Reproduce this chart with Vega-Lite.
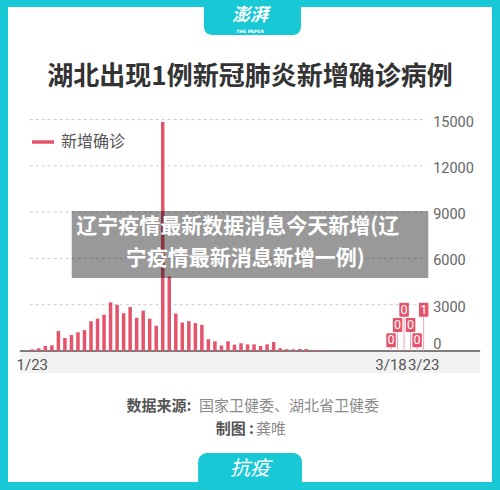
{
  "$schema": "https://vega.github.io/schema/vega-lite/v6.json",
  "width": 484,
  "height": 475,
  "autosize": {"type": "none"},
  "padding": {"left": 8, "top": 7, "right": 8, "bottom": 8},
  "config": {
    "background": "#18c8d5",
    "view": {"fill": "#ffffff", "stroke": null},
    "font": "Noto Sans CJK SC"
  },
  "data": {"values": [{}]},
  "datasets": {
    "cases": [
      {"date": "2020-01-23", "value": 105},
      {"date": "2020-01-24", "value": 180},
      {"date": "2020-01-25", "value": 323},
      {"date": "2020-01-26", "value": 370},
      {"date": "2020-01-27", "value": 1296},
      {"date": "2020-01-28", "value": 842},
      {"date": "2020-01-29", "value": 1037},
      {"date": "2020-01-30", "value": 1215},
      {"date": "2020-01-31", "value": 1355},
      {"date": "2020-02-01", "value": 1925},
      {"date": "2020-02-02", "value": 2100},
      {"date": "2020-02-03", "value": 2350},
      {"date": "2020-02-04", "value": 3156},
      {"date": "2020-02-05", "value": 2995},
      {"date": "2020-02-06", "value": 2447},
      {"date": "2020-02-07", "value": 2845},
      {"date": "2020-02-08", "value": 2155},
      {"date": "2020-02-09", "value": 2618},
      {"date": "2020-02-10", "value": 2097},
      {"date": "2020-02-11", "value": 1640},
      {"date": "2020-02-12", "value": 14840},
      {"date": "2020-02-13", "value": 4830},
      {"date": "2020-02-14", "value": 2425},
      {"date": "2020-02-15", "value": 1845},
      {"date": "2020-02-16", "value": 1933},
      {"date": "2020-02-17", "value": 1807},
      {"date": "2020-02-18", "value": 1693},
      {"date": "2020-02-19", "value": 760},
      {"date": "2020-02-20", "value": 630},
      {"date": "2020-02-21", "value": 350},
      {"date": "2020-02-22", "value": 630},
      {"date": "2020-02-23", "value": 410},
      {"date": "2020-02-24", "value": 500},
      {"date": "2020-02-25", "value": 430},
      {"date": "2020-02-26", "value": 430},
      {"date": "2020-02-27", "value": 325},
      {"date": "2020-02-28", "value": 430},
      {"date": "2020-02-29", "value": 580},
      {"date": "2020-03-01", "value": 180},
      {"date": "2020-03-02", "value": 114},
      {"date": "2020-03-03", "value": 115},
      {"date": "2020-03-04", "value": 134},
      {"date": "2020-03-05", "value": 126},
      {"date": "2020-03-06", "value": 70},
      {"date": "2020-03-07", "value": 45},
      {"date": "2020-03-08", "value": 36},
      {"date": "2020-03-09", "value": 17},
      {"date": "2020-03-10", "value": 13},
      {"date": "2020-03-11", "value": 8},
      {"date": "2020-03-12", "value": 5},
      {"date": "2020-03-13", "value": 4},
      {"date": "2020-03-14", "value": 4},
      {"date": "2020-03-15", "value": 4},
      {"date": "2020-03-16", "value": 1},
      {"date": "2020-03-17", "value": 1},
      {"date": "2020-03-18", "value": 0},
      {"date": "2020-03-19", "value": 0},
      {"date": "2020-03-20", "value": 0},
      {"date": "2020-03-21", "value": 0},
      {"date": "2020-03-22", "value": 0},
      {"date": "2020-03-23", "value": 1}
    ],
    "yticks": [
      {"value": 0},
      {"value": 3000},
      {"value": 6000},
      {"value": 9000},
      {"value": 12000},
      {"value": 15000}
    ],
    "xlabels": [
      {"date": "2020-01-23", "label": "1/23"},
      {"date": "2020-03-18", "label": "3/18"},
      {"date": "2020-03-23", "label": "3/23"}
    ],
    "flags": [
      {"day": "3/18", "date": "2020-03-18", "value": 0},
      {"day": "3/19", "date": "2020-03-19", "value": 0},
      {"day": "3/20", "date": "2020-03-20", "value": 0},
      {"day": "3/21", "date": "2020-03-21", "value": 0},
      {"day": "3/22", "date": "2020-03-22", "value": 0},
      {"day": "3/23", "date": "2020-03-23", "value": 1}
    ]
  },
  "layer": [
    {
      "mark": {"type": "rect", "color": "#18c8d5", "cornerRadiusBottomLeft": 8, "cornerRadiusBottomRight": 8},
      "encoding": {
        "x": {"datum": {"year": 2020, "month": 2, "date": 18, "hours": 7, "minutes": 41, "utc": true}, "type": "temporal", "axis": null},
        "x2": {"datum": {"year": 2020, "month": 3, "date": 4, "hours": 4, "minutes": 34, "utc": true}},
        "y": {"datum": 24500, "type": "quantitative", "axis": null},
        "y2": {"datum": 20480}
      }
    },
    {
      "mark": {"type": "text", "text": "澎湃", "color": "#ffffff", "fontSize": 18, "fontWeight": "bold", "fontStyle": "italic", "align": "center", "baseline": "middle"},
      "encoding": {
        "x": {"datum": {"year": 2020, "month": 2, "date": 25, "hours": 9, "minutes": 7, "utc": true}, "type": "temporal", "axis": null},
        "y": {"datum": 21700, "type": "quantitative", "axis": null}
      }
    },
    {
      "mark": {"type": "text", "text": "THE PAPER", "color": "#ffffff", "fontSize": 4.5, "font": "DejaVu Sans", "fontWeight": "bold", "align": "center", "baseline": "middle"},
      "encoding": {
        "x": {"datum": {"year": 2020, "month": 2, "date": 25, "hours": 9, "minutes": 7, "utc": true}, "type": "temporal", "axis": null},
        "y": {"datum": 20700, "type": "quantitative", "axis": null}
      }
    },
    {
      "mark": {"type": "text", "text": "湖北出现1例新冠肺炎新增确诊病例", "color": "#333333", "fontSize": 26, "fontWeight": "bold", "align": "center", "baseline": "middle"},
      "encoding": {
        "x": {"datum": {"year": 2020, "month": 2, "date": 25, "hours": 9, "minutes": 7, "utc": true}, "type": "temporal", "axis": null},
        "y": {"datum": 17780, "type": "quantitative", "axis": null}
      }
    },
    {
      "data": {"name": "yticks"},
      "transform": [{"filter": "datum.value > 0"}],
      "mark": {"type": "rule", "color": "#cccccc", "strokeWidth": 1, "strokeDash": [3, 3]},
      "encoding": {
        "x": {"datum": {"year": 2020, "month": 1, "date": 22, "hours": 14, "minutes": 17, "utc": true}, "type": "temporal", "axis": null},
        "x2": {"datum": {"year": 2020, "month": 3, "date": 23, "hours": 9, "minutes": 50, "utc": true}},
        "y": {"field": "value", "type": "quantitative", "axis": null}
      }
    },
    {
      "data": {"name": "yticks"},
      "transform": [{"filter": "datum.value > 0"}],
      "mark": {"type": "text", "color": "#666666", "font": "Roboto", "fontSize": 14.5, "align": "left", "baseline": "middle", "dy": 3},
      "encoding": {
        "x": {"datum": {"year": 2020, "month": 3, "date": 24, "hours": 11, "minutes": 2, "utc": true}, "type": "temporal", "axis": null},
        "y": {"field": "value", "type": "quantitative", "axis": null},
        "text": {"field": "value", "type": "quantitative", "format": "d"}
      }
    },
    {
      "data": {"name": "yticks"},
      "transform": [{"filter": "datum.value === 0"}],
      "mark": {"type": "text", "color": "#666666", "font": "Roboto", "fontSize": 14.5, "align": "left", "baseline": "middle", "dy": -6},
      "encoding": {
        "x": {"datum": {"year": 2020, "month": 3, "date": 24, "hours": 11, "minutes": 2, "utc": true}, "type": "temporal", "axis": null},
        "y": {"field": "value", "type": "quantitative", "axis": null},
        "text": {"field": "value", "type": "quantitative", "format": "d"}
      }
    },
    {
      "mark": {"type": "rect", "color": "#f2f2f2"},
      "encoding": {
        "x": {"datum": {"year": 2020, "month": 1, "date": 21, "hours": 2, "minutes": 14, "utc": true}, "type": "temporal", "axis": null},
        "x2": {"datum": {"year": 2020, "month": 3, "date": 31, "hours": 15, "minutes": 50, "utc": true}},
        "y": {"datum": 0, "type": "quantitative", "axis": null},
        "y2": {"datum": -1426}
      }
    },
    {
      "mark": {"type": "rule", "color": "#555555", "strokeWidth": 1.5},
      "encoding": {
        "x": {"datum": {"year": 2020, "month": 1, "date": 21, "hours": 2, "minutes": 14, "utc": true}, "type": "temporal", "axis": null},
        "x2": {"datum": {"year": 2020, "month": 3, "date": 31, "hours": 15, "minutes": 50, "utc": true}},
        "y": {"datum": 0, "type": "quantitative", "axis": null}
      }
    },
    {
      "data": {"name": "xlabels"},
      "mark": {"type": "text", "color": "#555555", "font": "Roboto", "fontSize": 15, "align": "center", "baseline": "middle", "dy": 14},
      "encoding": {
        "x": {"field": "date", "type": "temporal", "axis": null},
        "y": {"datum": 0, "type": "quantitative", "axis": null},
        "text": {"field": "label", "type": "nominal"}
      }
    },
    {
      "data": {"name": "cases"},
      "mark": {"type": "bar", "width": 3.5},
      "encoding": {
        "x": {
          "field": "date",
          "type": "temporal",
          "scale": {
            "type": "utc",
            "nice": false,
            "domain": [
              {"year": 2020, "month": 1, "date": 20, "hours": 1, "minutes": 0, "utc": true},
              {"year": 2020, "month": 4, "date": 1, "hours": 17, "minutes": 5, "utc": true}
            ]
          },
          "axis": null
        },
        "y": {
          "field": "value",
          "type": "quantitative",
          "stack": null,
          "scale": {"domain": [-8490, 22294], "nice": false, "zero": false},
          "axis": null
        },
        "y2": {"datum": 0},
        "color": {
          "datum": "新增确诊",
          "type": "nominal",
          "scale": {"range": ["#e4546b"]},
          "legend": {
            "orient": "none",
            "legendX": 22,
            "legendY": 122,
            "title": null,
            "padding": 0,
            "symbolType": "stroke",
            "symbolSize": 484,
            "symbolStrokeWidth": 3.5,
            "symbolStrokeColor": "#e4546b",
            "labelFont": "Noto Sans CJK SC",
            "labelFontSize": 16,
            "labelColor": "#555555",
            "labelOffset": 5
          }
        }
      }
    },
    {
      "data": {"name": "flags"},
      "transform": [{"filter": {"field": "day", "oneOf": ["3/18", "3/22"]}}],
      "layer": [
        {
          "mark": {"type": "rule", "color": "#f3a3b0", "strokeWidth": 1},
          "encoding": {
            "x": {"field": "date", "type": "temporal", "axis": null},
            "y": {"datum": 240, "type": "quantitative", "axis": null},
            "y2": {"datum": 0}
          }
        },
        {
          "mark": {"type": "bar", "width": 9.5, "color": "#e4546b", "cornerRadius": 1},
          "encoding": {
            "x": {"field": "date", "type": "temporal", "axis": null},
            "y": {"datum": 240, "type": "quantitative", "axis": null},
            "y2": {"datum": 1147}
          }
        },
        {
          "mark": {"type": "text", "color": "#ffffff", "font": "Roboto", "fontSize": 12.5, "align": "center", "baseline": "middle"},
          "encoding": {
            "x": {"field": "date", "type": "temporal", "axis": null},
            "y": {"datum": 693, "type": "quantitative", "axis": null},
            "text": {"field": "value", "type": "quantitative"}
          }
        }
      ]
    },
    {
      "data": {"name": "flags"},
      "transform": [{"filter": {"field": "day", "oneOf": ["3/19", "3/21"]}}],
      "layer": [
        {
          "mark": {"type": "rule", "color": "#f3a3b0", "strokeWidth": 1},
          "encoding": {
            "x": {"field": "date", "type": "temporal", "axis": null},
            "y": {"datum": 1231, "type": "quantitative", "axis": null},
            "y2": {"datum": 0}
          }
        },
        {
          "mark": {"type": "bar", "width": 9.5, "color": "#e4546b", "cornerRadius": 1},
          "encoding": {
            "x": {"field": "date", "type": "temporal", "axis": null},
            "y": {"datum": 1231, "type": "quantitative", "axis": null},
            "y2": {"datum": 2138}
          }
        },
        {
          "mark": {"type": "text", "color": "#ffffff", "font": "Roboto", "fontSize": 12.5, "align": "center", "baseline": "middle"},
          "encoding": {
            "x": {"field": "date", "type": "temporal", "axis": null},
            "y": {"datum": 1685, "type": "quantitative", "axis": null},
            "text": {"field": "value", "type": "quantitative"}
          }
        }
      ]
    },
    {
      "data": {"name": "flags"},
      "transform": [{"filter": {"field": "day", "oneOf": ["3/20", "3/23"]}}],
      "layer": [
        {
          "mark": {"type": "rule", "color": "#f3a3b0", "strokeWidth": 1},
          "encoding": {
            "x": {"field": "date", "type": "temporal", "axis": null},
            "y": {"datum": 2223, "type": "quantitative", "axis": null},
            "y2": {"datum": 0}
          }
        },
        {
          "mark": {"type": "bar", "width": 9.5, "color": "#e4546b", "cornerRadius": 1},
          "encoding": {
            "x": {"field": "date", "type": "temporal", "axis": null},
            "y": {"datum": 2223, "type": "quantitative", "axis": null},
            "y2": {"datum": 3130}
          }
        },
        {
          "mark": {"type": "text", "color": "#ffffff", "font": "Roboto", "fontSize": 12.5, "align": "center", "baseline": "middle"},
          "encoding": {
            "x": {"field": "date", "type": "temporal", "axis": null},
            "y": {"datum": 2677, "type": "quantitative", "axis": null},
            "text": {"field": "value", "type": "quantitative"}
          }
        }
      ]
    },
    {
      "mark": {"type": "rect", "color": "#000000", "opacity": 0.4},
      "encoding": {
        "x": {"datum": {"year": 2020, "month": 1, "date": 29, "hours": 1, "minutes": 12, "utc": true}, "type": "temporal", "axis": null},
        "x2": {"datum": {"year": 2020, "month": 3, "date": 23, "hours": 17, "minutes": 2, "utc": true}},
        "y": {"datum": 9073, "type": "quantitative", "axis": null},
        "y2": {"datum": 4731}
      }
    },
    {
      "mark": {"type": "text", "text": "辽宁疫情最新数据消息今天新增(辽", "color": "#ffffff", "fontSize": 21, "fontWeight": "bold", "align": "center", "baseline": "middle"},
      "encoding": {
        "x": {"datum": {"year": 2020, "month": 2, "date": 23, "hours": 12, "minutes": 0, "utc": true}, "type": "temporal", "axis": null},
        "y": {"datum": 8036, "type": "quantitative", "axis": null}
      }
    },
    {
      "mark": {"type": "text", "text": "宁疫情最新消息新增一例)", "color": "#ffffff", "fontSize": 21, "fontWeight": "bold", "align": "center", "baseline": "middle"},
      "encoding": {
        "x": {"datum": {"year": 2020, "month": 2, "date": 24, "hours": 15, "minutes": 7, "utc": true}, "type": "temporal", "axis": null},
        "y": {"datum": 5962, "type": "quantitative", "axis": null}
      }
    },
    {
      "mark": {"type": "text", "text": "数据来源:", "color": "#555555", "fontSize": 15, "fontWeight": "bold", "align": "left", "baseline": "middle"},
      "encoding": {
        "x": {"datum": {"year": 2020, "month": 2, "date": 6, "hours": 11, "minutes": 2, "utc": true}, "type": "temporal", "axis": null},
        "y": {"datum": -3564, "type": "quantitative", "axis": null}
      }
    },
    {
      "mark": {"type": "text", "text": "国家卫健委、湖北省卫健委", "color": "#8a8a8a", "fontSize": 15, "align": "left", "baseline": "middle"},
      "encoding": {
        "x": {"datum": {"year": 2020, "month": 2, "date": 17, "hours": 13, "minutes": 27, "utc": true}, "type": "temporal", "axis": null},
        "y": {"datum": -3564, "type": "quantitative", "axis": null}
      }
    },
    {
      "mark": {"type": "text", "text": "制图 :", "color": "#555555", "fontSize": 15, "fontWeight": "bold", "align": "left", "baseline": "middle"},
      "encoding": {
        "x": {"datum": {"year": 2020, "month": 2, "date": 20, "hours": 2, "minutes": 53, "utc": true}, "type": "temporal", "axis": null},
        "y": {"datum": -5055, "type": "quantitative", "axis": null}
      }
    },
    {
      "mark": {"type": "text", "text": "龚唯", "color": "#8a8a8a", "fontSize": 15, "align": "left", "baseline": "middle"},
      "encoding": {
        "x": {"datum": {"year": 2020, "month": 2, "date": 26, "hours": 6, "minutes": 43, "utc": true}, "type": "temporal", "axis": null},
        "y": {"datum": -5055, "type": "quantitative", "axis": null}
      }
    },
    {
      "mark": {"type": "rect", "color": "#18c8d5", "cornerRadiusTopLeft": 9, "cornerRadiusTopRight": 9},
      "encoding": {
        "x": {"datum": {"year": 2020, "month": 2, "date": 17, "hours": 10, "minutes": 5, "utc": true}, "type": "temporal", "axis": null},
        "x2": {"datum": {"year": 2020, "month": 3, "date": 4, "hours": 8, "minutes": 10, "utc": true}},
        "y": {"datum": -6610, "type": "quantitative", "axis": null},
        "y2": {"datum": -9500}
      }
    },
    {
      "mark": {"type": "text", "text": "抗疫", "color": "#ffffff", "fontSize": 20, "fontStyle": "italic", "align": "center", "baseline": "middle"},
      "encoding": {
        "x": {"datum": {"year": 2020, "month": 2, "date": 25, "hours": 9, "minutes": 7, "utc": true}, "type": "temporal", "axis": null},
        "y": {"datum": -7647, "type": "quantitative", "axis": null}
      }
    }
  ]
}
